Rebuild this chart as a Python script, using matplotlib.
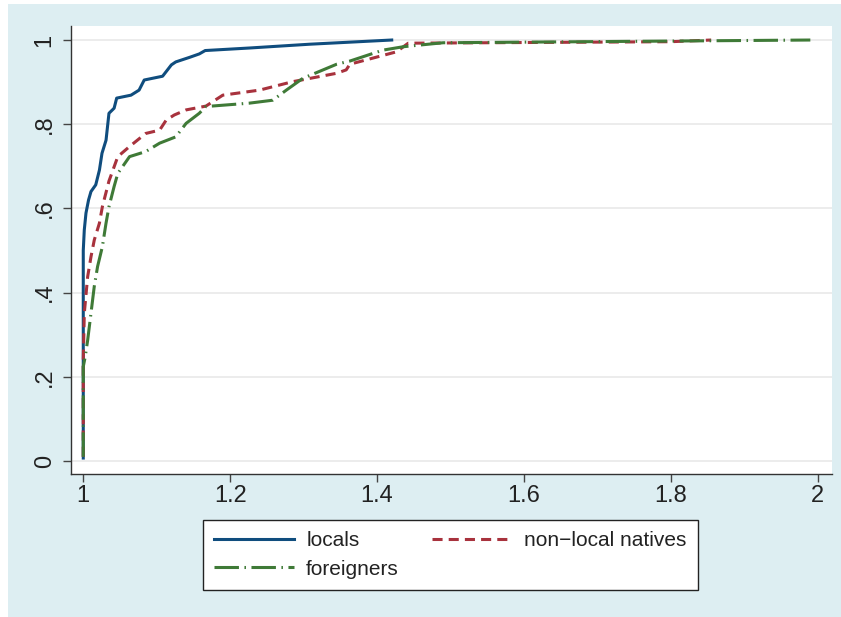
import matplotlib
matplotlib.use("Agg")
import matplotlib.pyplot as plt
from matplotlib.patches import Rectangle

plt.rcParams['font.family'] = ['Liberation Sans', 'DejaVu Sans']

# cumulative shares
locals_x = [1.0, 1.0, 1.0014, 1.0037, 1.0072, 1.0105, 1.017, 1.022, 1.0255, 1.031,
            1.035, 1.042, 1.0455, 1.065, 1.076, 1.083, 1.108, 1.12, 1.126, 1.145,
            1.158, 1.166, 1.226, 1.308, 1.42]
locals_y = [0.007, 0.50, 0.549, 0.589, 0.620, 0.640, 0.656, 0.691, 0.731, 0.762,
            0.826, 0.838, 0.862, 0.869, 0.881, 0.905, 0.914, 0.941, 0.948, 0.959,
            0.967, 0.975, 0.981, 0.990, 1.0]

natives_x = [1.0, 1.0, 1.0014, 1.006, 1.0105, 1.015, 1.022, 1.026, 1.035, 1.047,
             1.063, 1.085, 1.104, 1.113, 1.124, 1.14, 1.167, 1.19, 1.24, 1.285,
             1.345, 1.358, 1.363, 1.4265, 1.4425, 1.80, 1.855]
natives_y = [0.01, 0.24, 0.351, 0.438, 0.485, 0.525, 0.565, 0.604, 0.665, 0.723,
             0.747, 0.778, 0.786, 0.81, 0.822, 0.834, 0.843, 0.869, 0.881, 0.901,
             0.921, 0.929, 0.9425, 0.972, 0.9925, 0.996, 1.0]

foreign_x = [1.0, 1.0, 1.0027, 1.006, 1.0105, 1.015, 1.0195, 1.026, 1.031, 1.035,
             1.042, 1.047, 1.063, 1.085, 1.104, 1.126, 1.14, 1.158, 1.167, 1.226,
             1.258, 1.2765, 1.299, 1.345, 1.363, 1.408, 1.4355, 1.458, 1.49, 1.99]
foreign_y = [0.01, 0.224, 0.248, 0.287, 0.351, 0.415, 0.462, 0.509, 0.565, 0.604,
             0.652, 0.683, 0.723, 0.735, 0.755, 0.770, 0.802, 0.826, 0.842, 0.85,
             0.857, 0.881, 0.909, 0.9425, 0.95, 0.976, 0.984, 0.988, 0.9935, 1.0]

xticks = [1, 1.2, 1.4, 1.6, 1.8, 2]
xtick_labels = ['1', '1.2', '1.4', '1.6', '1.8', '2']
yticks = [0, 0.2, 0.4, 0.6, 0.8, 1]
ytick_labels = ['0', '.2', '.4', '.6', '.8', '1']

bg = '#ddeef2'
fig = plt.figure(figsize=(8.41, 6.17), dpi=100)
fig.patch.set_facecolor('white')
fig.patches.append(Rectangle((8/841, 0), 1 - 8/841, 1 - 4/617,
                             transform=fig.transFigure, facecolor=bg,
                             edgecolor='none', zorder=-10))

ax = fig.add_axes([71/841, 1 - 474/617, (832 - 71)/841, (474 - 26)/617])
ax.set_facecolor('white')

lw = 2.2
l1, = ax.plot(locals_x, locals_y, color='#104d7e', lw=lw, solid_joinstyle='round')
l2, = ax.plot(natives_x, natives_y, color='#a8323d', lw=lw, dashes=(3.3, 2.0))
l3, = ax.plot(foreign_x, foreign_y, color='#3f7a37', lw=lw,
              dashes=(8.0, 1.8, 0.5, 1.8))

ax.set_xlim(0.9833, 2.0195)
ax.set_ylim(-0.0309, 1.0333)
ax.set_xticks(xticks)
ax.set_xticklabels(xtick_labels)
ax.set_yticks(yticks)
ax.set_yticklabels(ytick_labels, rotation=90, va='center')

for y in yticks:
    ax.axhline(y, color='#eaeaea', lw=1.3, zorder=0)

for s in ['top', 'right']:
    ax.spines[s].set_visible(False)
for s in ['left', 'bottom']:
    ax.spines[s].set_color('#333333')
    ax.spines[s].set_linewidth(1.0)

ax.tick_params(axis='both', direction='out', length=6, width=1.0,
               color='#444444', labelsize=17, labelcolor='#222222')
ax.tick_params(axis='x', pad=2)
ax.tick_params(axis='y', pad=5)

# column-major fill: locals / foreigners in column 1, natives in column 2
leg = fig.legend(handles=[l1, l3, l2],
                 labels=['locals', 'foreigners', 'non\u2212local natives'],
                 loc='lower left', bbox_to_anchor=(203/841, 27/617),
                 ncol=2, fontsize=15, frameon=True, fancybox=False, framealpha=1,
                 handlelength=3.8, handletextpad=0.6, columnspacing=1.6,
                 borderpad=0.55, labelspacing=0.45, borderaxespad=0)
leg.get_frame().set_edgecolor('#222222')
leg.get_frame().set_linewidth(1.0)
leg.get_frame().set_facecolor('white')
for t in leg.get_texts():
    t.set_color('#222222')

fig.savefig('out.png', dpi=100, facecolor=fig.get_facecolor())
